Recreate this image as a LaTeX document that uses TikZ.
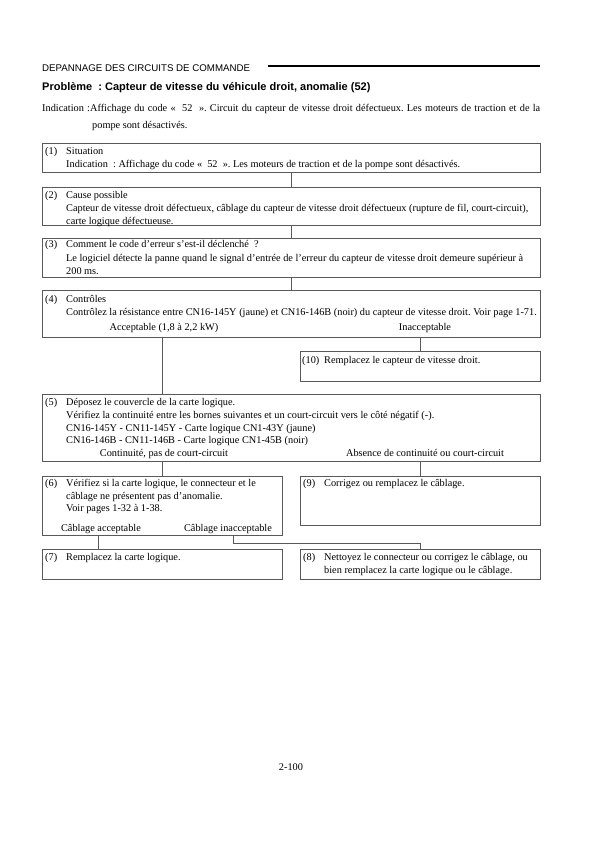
\documentclass[tikz,border=0pt]{standalone}
\usepackage{fontspec}
\setmainfont{Liberation Serif}
\setsansfont{Liberation Sans}
\usetikzlibrary{positioning}
\usetikzlibrary{calc}
\frenchspacing

\begin{document}
\begin{tikzpicture}[x=1pt,y=-1pt,
	box/.style={draw=black!65, line width=.6pt, inner sep=0pt, anchor=north west, minimum width=498pt},
	halfbox/.style={box, minimum width=240pt},
	txt/.style={inner sep=0pt, anchor=base west, font=\fontsize{10.3}{13}\selectfont},
	branch/.style={inner sep=0pt, anchor=base, font=\fontsize{10.3}{13}\selectfont},
	link/.style={draw=black!65, line width=.6pt}]
			\useasboundingbox (0,0) rectangle (596,842);
			
			% Header
			\node[inner sep=0pt, anchor=base west, font=\sffamily\fontsize{9.7}{11}\selectfont] (head) at (42,71.5) {DEPANNAGE DES CIRCUITS DE COMMANDE};
			\draw[line width=1.4pt] (268,66) -- (540,66);
			\node[inner sep=0pt, anchor=base west, font=\sffamily\bfseries\fontsize{11}{13}\selectfont] (title) at (42,91) {Problème~~: Capteur de vitesse du véhicule droit, anomalie (52)};
			\node[txt] (ind) at (42,111.5) {\makebox[498pt][s]{Indication :Affichage du code «~~52~~». Circuit du capteur de vitesse droit défectueux. Les moteurs de traction et de la}};
			\node[txt] (ind2) at (92,128.5) {pompe sont désactivés.};
			
			% Boxes
			\node[box, minimum height=29pt] (b1) at (42,143) {};
			\node[box, minimum height=38pt] (b2) at (42,187) {};
			\node[box, minimum height=39pt] (b3) at (42,238) {};
			\node[box, minimum height=47pt] (b4) at (42,290) {};
			\node[halfbox, minimum height=30pt] (b10) at (300,351) {};
			\node[box, minimum height=67pt] (b5) at (42,394) {};
			\node[halfbox, minimum height=59pt] (b6) at (42,476) {};
			\node[halfbox, minimum height=49pt] (b9) at (300,476) {};
			\node[halfbox, minimum height=30pt] (b7) at (42,549) {};
			\node[halfbox, minimum height=30pt] (b8) at (300,549) {};
			
			% Texts
			\node[txt] (t1) at (45,154.5) {\begin{tabular}[t]{@{}p{21pt}@{}l@{}}(1) & Situation\\ & Indication~~: Affichage du code «~~52~~». Les moteurs de traction et de la pompe sont désactivés.\end{tabular}};
			\node[txt] (t2) at (45,198.5) {\begin{tabular}[t]{@{}p{21pt}@{}l@{}}(2) & Cause possible\\ & Capteur de vitesse droit défectueux, câblage du capteur de vitesse droit défectueux (rupture de fil, court-circuit),\\ & carte logique défectueuse.\end{tabular}};
			\node[txt] (t3) at (45,247.5) {\begin{tabular}[t]{@{}p{21pt}@{}l@{}}(3) & Comment le code d’erreur s’est-il déclenché~~?\\[1pt] & Le logiciel détecte la panne quand le signal d’entrée de l’erreur du capteur de vitesse droit demeure supérieur à\\ & 200 ms.\end{tabular}};
			\node[txt] (t4) at (45,302.5) {\begin{tabular}[t]{@{}p{21pt}@{}l@{}}(4) & Contrôles\\ & Contrôlez la résistance entre CN16-145Y (jaune) et CN16-146B (noir) du capteur de vitesse droit. Voir page 1-71.\end{tabular}};
			\node[txt] (t10) at (302,363.5) {\begin{tabular}[t]{@{}p{22pt}@{}l@{}}(10) & Remplacez le capteur de vitesse droit.\end{tabular}};
			\node[txt] (t5) at (45,405.5) {\begin{tabular}[t]{@{}p{21pt}@{}l@{}}(5) & Déposez le couvercle de la carte logique.\\ & Vérifiez la continuité entre les bornes suivantes et un court-circuit vers le côté négatif (-).\\ & CN16-145Y - CN11-145Y - Carte logique CN1-43Y (jaune)\\[-1pt] & CN16-146B - CN11-146B - Carte logique CN1-45B (noir)\end{tabular}};
			\node[txt] (t6) at (45,486.5) {\begin{tabular}[t]{@{}p{21pt}@{}l@{}}(6) & Vérifiez si la carte logique, le connecteur et le\\ & câblage ne présentent pas d’anomalie.\\[-1pt] & Voir pages 1-32 à 1-38.\end{tabular}};
			\node[txt] (t9) at (303,486.5) {\begin{tabular}[t]{@{}p{21pt}@{}l@{}}(9) & Corrigez ou remplacez le câblage.\end{tabular}};
			\node[txt] (t7) at (45,560.5) {\begin{tabular}[t]{@{}p{21pt}@{}l@{}}(7) & Remplacez la carte logique.\end{tabular}};
			\node[txt] (t8) at (303,560.5) {\begin{tabular}[t]{@{}p{21pt}@{}l@{}}(8) & Nettoyez le connecteur ou corrigez le câblage, ou\\ & bien remplacez la carte logique ou le câblage.\end{tabular}};
			
			% Branch labels
			\node[branch] (ok4) at (164,330) {Acceptable (1,8 à 2,2 kW)};
			\node[branch] (ng4) at (425,330) {Inacceptable};
			\node[branch] (ok5) at (164,456) {Continuité, pas de court-circuit};
			\node[branch] (ng5) at (425,456) {Absence de continuité ou court-circuit};
			\node[branch] (ok6) at (101,531) {Câblage acceptable};
			\node[branch] (ng6) at (228,531) {Câblage inacceptable};
			
			% Connectors
			\draw[link] (b1) -- (b2);
			\draw[link] (b2) -- (b3);
			\draw[link] (b3) -- (b4);
			\draw[link] (b4.south -| b6.north) -- (b5.north -| b6.north);
			\draw[link] (b4.south -| b10.north) -- (b10.north);
			\draw[link] (b5.south -| b6.north) -- (b6.north);
			\draw[link] (b5.south -| b9.north) -- (b9.north);
			\draw[link] ([xshift=-3pt]ok6 |- b6.south) -- ([xshift=-3pt]ok6 |- b7.north);
			\draw[link] ([xshift=5pt]ng6 |- b6.south) -- ++(0,8) -| (b8.north);
			
			% Page number
			\node[branch] (pg) at (291,770) {2-100};
		\end{tikzpicture}
\end{document}
